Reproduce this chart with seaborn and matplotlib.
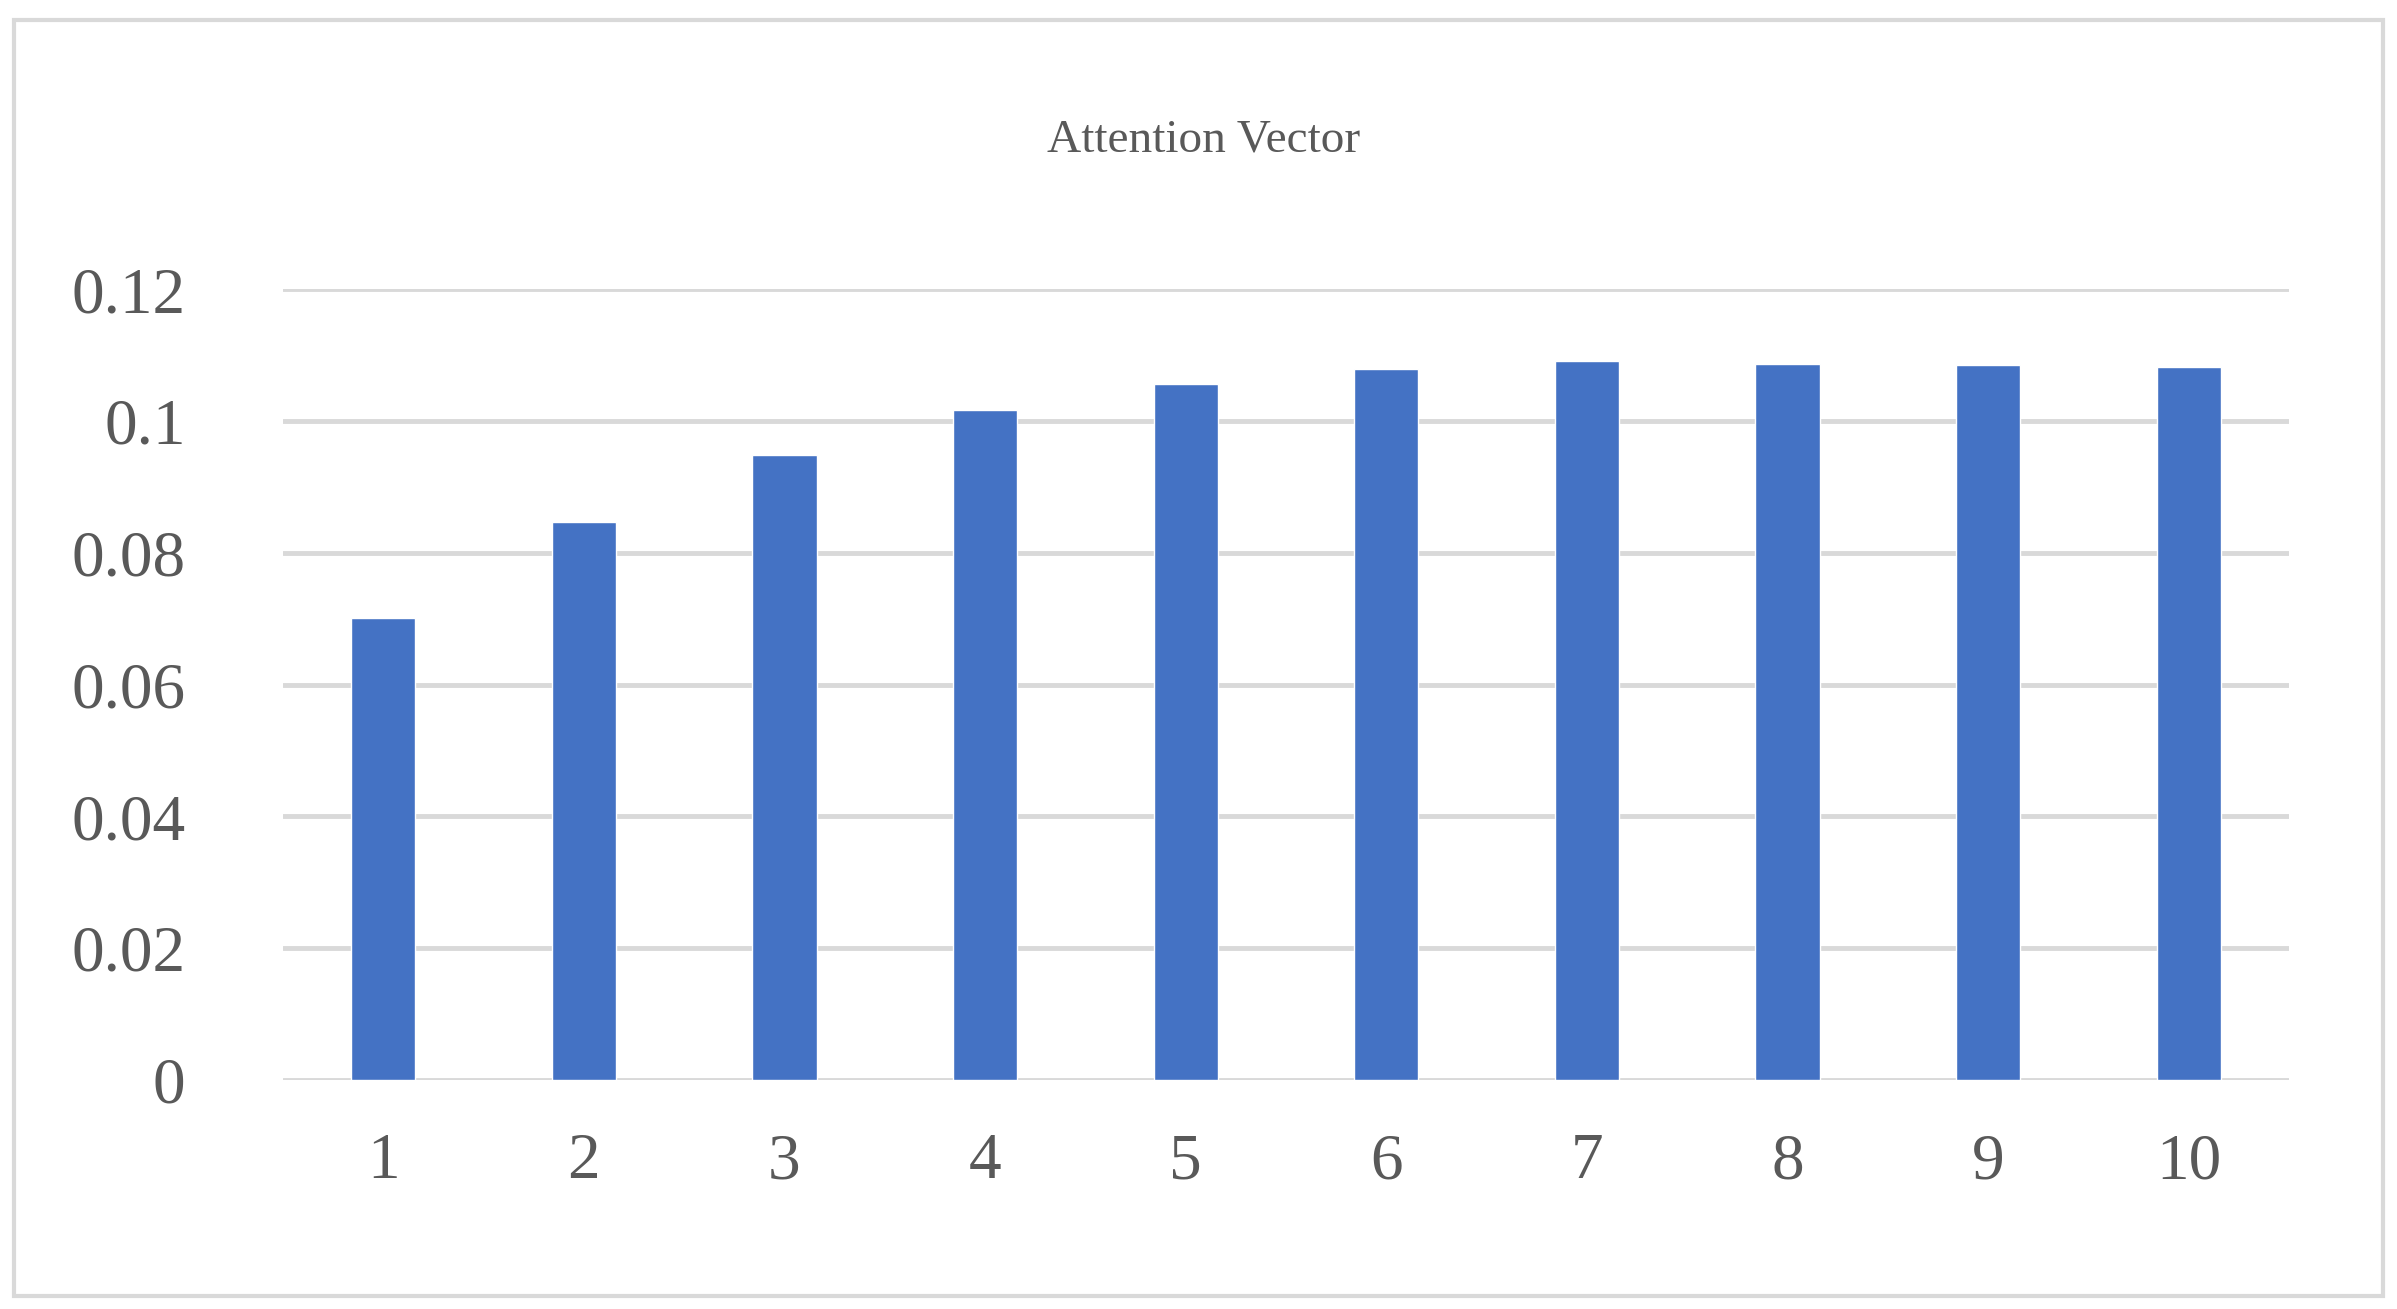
import matplotlib
matplotlib.use("Agg")
import matplotlib.pyplot as plt
import seaborn as sns
import pandas as pd
from matplotlib.patches import Rectangle

categories = ["1", "2", "3", "4", "5", "6", "7", "8", "9", "10"]
values = [0.0701, 0.0847, 0.0949, 0.1017, 0.1056, 0.1079, 0.1091, 0.1086, 0.1085, 0.1082]
yticks = [0, 0.02, 0.04, 0.06, 0.08, 0.1, 0.12]
ytick_labels = ["0", "0.02", "0.04", "0.06", "0.08", "0.1", "0.12"]

sns.set_style("white")
plt.rcParams['font.family'] = ['Liberation Serif', 'DejaVu Serif']
txt = "#595959"

df = pd.DataFrame({"idx": categories, "val": values})
fig = plt.figure(figsize=(23.97, 13.09), dpi=100)
ax = fig.add_axes([0.118, 0.175, 0.837, 0.604])
sns.barplot(data=df, x="idx", y="val", color="#4472C4", width=0.32, saturation=1, ax=ax, zorder=3)
ax.set_ylim(0, 0.12)
ax.set_yticks(yticks)
ax.set_yticklabels(ytick_labels)
ax.yaxis.grid(True, color="#d9d9d9", linewidth=3.5, zorder=0)
ax.set_axisbelow(True)
for s in ax.spines.values():
    s.set_visible(False)
ax.set_xlabel("")
ax.set_ylabel("")
ax.tick_params(axis="both", length=0, labelsize=47, colors=txt)
ax.tick_params(axis="x", pad=38)
ax.tick_params(axis="y", pad=70)
for l in ax.get_yticklabels():
    l.set_horizontalalignment("right")
ax.set_xlim(-0.5, 9.5)
fig.text(0.502, 0.893, "Attention Vector", ha="center", va="center", fontsize=34, color=txt)
fig.patches.append(Rectangle((0.006, 0.01), 0.988, 0.975, transform=fig.transFigure,
                             fill=False, edgecolor="#d9d9d9", linewidth=3))
fig.savefig("out.png", dpi=100, facecolor="white")
